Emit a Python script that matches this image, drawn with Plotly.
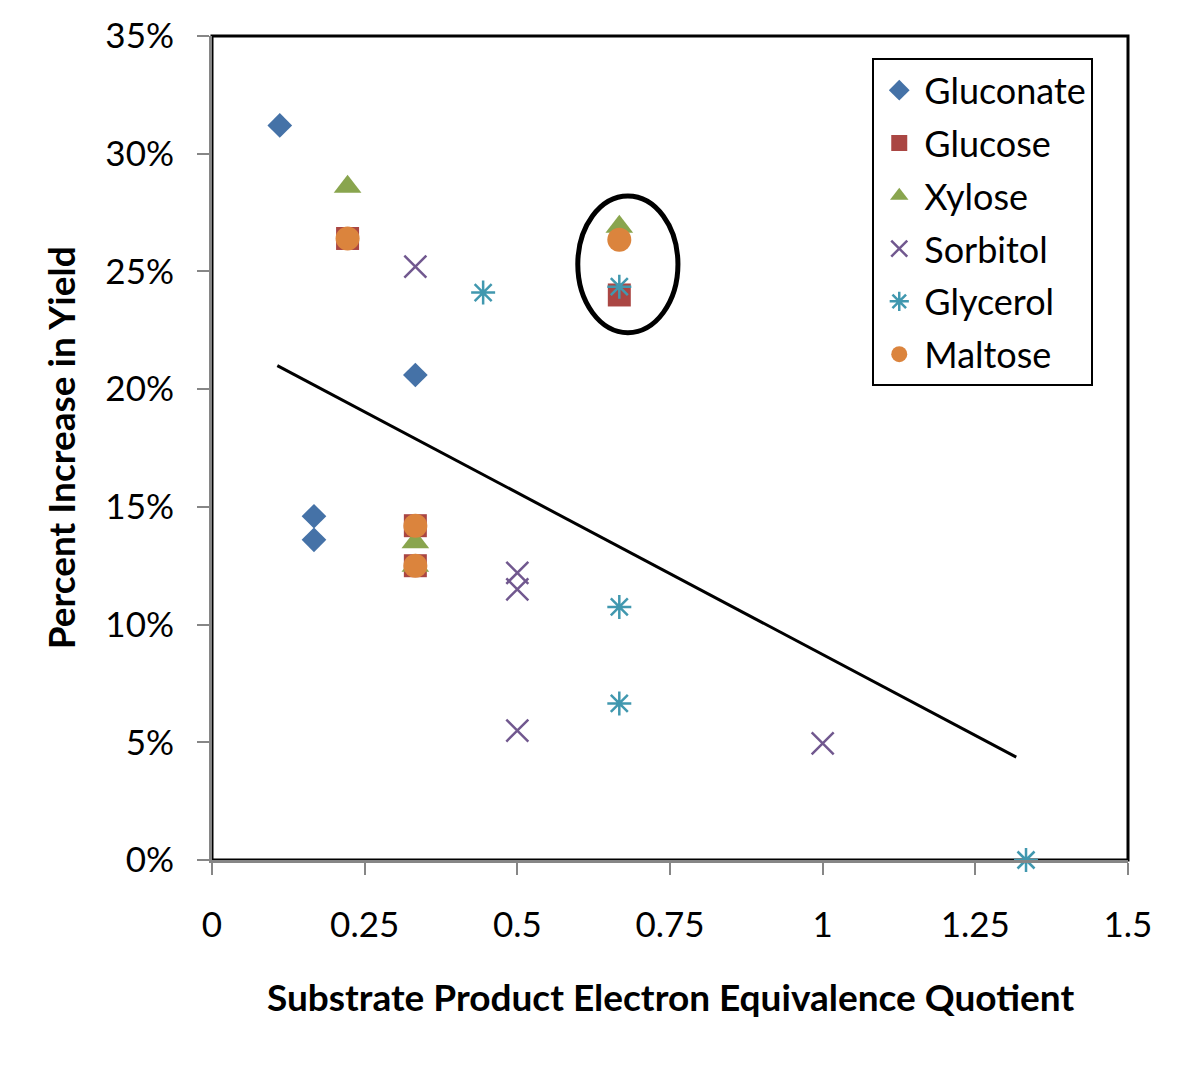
import plotly.graph_objects as go

# ---- data ----
gluconate_x = [0.111, 0.167, 0.167, 0.333]
gluconate_y = [31.2, 14.6, 13.6, 20.6]

glucose_x = [0.222, 0.333, 0.333, 0.667]
glucose_y = [26.4, 14.2, 12.5, 24.0]

xylose_x = [0.222, 0.333, 0.333, 0.667]
xylose_y = [28.6, 13.5, 12.5, 26.9]

sorbitol_x = [0.333, 0.5, 0.5, 0.5, 1.0]
sorbitol_y = [25.2, 12.2, 11.5, 5.5, 4.95]

glycerol_x = [0.444, 0.667, 0.667, 0.667, 1.333]
glycerol_y = [24.1, 24.35, 10.75, 6.65, 0.0]

maltose_x = [0.222, 0.333, 0.333, 0.667]
maltose_y = [26.4, 14.2, 12.5, 26.35]

trend_x = [0.107, 1.317]
trend_y = [21.0, 4.37]

ellipse_x = [0.599, 0.763]
ellipse_y = [22.4, 28.2]

x_ticks = [0, 0.25, 0.5, 0.75, 1, 1.25, 1.5]
x_tick_labels = ["0", "0.25", "0.5", "0.75", "1", "1.25", "1.5"]
y_ticks = [0, 5, 10, 15, 20, 25, 30, 35]
y_tick_labels = ["0%", "5%", "10%", "15%", "20%", "25%", "30%", "35%"]

FONT = "Lato"

fig = go.Figure()

fig.add_trace(go.Scatter(x=trend_x, y=trend_y, mode="lines",
                         line=dict(color="black", width=3), showlegend=False,
                         hoverinfo="skip"))

series = [
    ("Gluconate", gluconate_x, gluconate_y, "diamond", "#4572A7", 19, 0),
    ("Glucose", glucose_x, glucose_y, "square", "#AA4643", 23, 0),
    ("Xylose", xylose_x, xylose_y, "triangle-up", "#89A54E", 24, 0),
    ("Sorbitol", sorbitol_x, sorbitol_y, "x-thin-open", "#71588F", 22, 2.5),
    ("Glycerol", glycerol_x, glycerol_y, "asterisk-open", "#4198AF", 20, 2.5),
    ("Maltose", maltose_x, maltose_y, "circle", "#DB843D", 24, 0),
]
for name, xs, ys, sym, col, size, lw in series:
    marker = dict(symbol=sym, color=col, size=size)
    if lw:
        marker["line"] = dict(color=col, width=lw)
    else:
        marker["line"] = dict(width=0)
    fig.add_trace(go.Scatter(x=xs, y=ys, mode="markers", name=name,
                             marker=marker, legendgroup=name, cliponaxis=False))

# plot-area border (top/right black)
fig.add_shape(type="rect", xref="x domain", yref="y domain", x0=0, x1=1, y0=0, y1=1,
              line=dict(color="black", width=3), layer="below")
# highlight ellipse
fig.add_shape(type="circle", xref="x", yref="y",
              x0=ellipse_x[0], x1=ellipse_x[1], y0=ellipse_y[0], y1=ellipse_y[1],
              line=dict(color="black", width=5))

fig.update_layout(
    width=1200, height=1080,
    margin=dict(l=204, r=80, t=28, b=228),
    paper_bgcolor="white", plot_bgcolor="white",
    font=dict(family=FONT, color="black", size=35),
    showlegend=True,
    legend=dict(x=0.7208, y=0.973, xanchor="left", yanchor="top",
                bordercolor="black", borderwidth=2, bgcolor="white",
                font=dict(family=FONT, size=36, color="black"),
                tracegroupgap=3, itemwidth=40),
    annotations=[
        dict(text="<b>Substrate Product Electron Equivalence Quotient</b>",
             xref="paper", yref="paper", x=0.5, y=-0.166, showarrow=False,
             xanchor="center", yanchor="middle",
             font=dict(family=FONT, size=37, color="black")),
        dict(text="<b>Percent Increase in Yield</b>",
             xref="paper", yref="paper", x=-0.1656, y=0.5, showarrow=False,
             textangle=-90, xanchor="center", yanchor="middle",
             font=dict(family=FONT, size=37, color="black")),
    ],
)

fig.update_xaxes(range=[0, 1.5], tickvals=x_ticks, ticktext=x_tick_labels,
                 showgrid=False, zeroline=False, showline=True, automargin=False,
                 linecolor="#868686", linewidth=3, ticks="outside",
                 tickcolor="#868686", tickwidth=2, ticklen=12,
                 ticklabelstandoff=20, tickfont=dict(family=FONT, size=35))
fig.update_yaxes(range=[0, 35], tickvals=y_ticks, ticktext=y_tick_labels,
                 showgrid=False, zeroline=False, showline=True, automargin=False,
                 linecolor="#868686", linewidth=3, ticks="outside",
                 tickcolor="#868686", tickwidth=2, ticklen=12,
                 ticklabelstandoff=16, tickfont=dict(family=FONT, size=35))

fig.write_html("out.html")
